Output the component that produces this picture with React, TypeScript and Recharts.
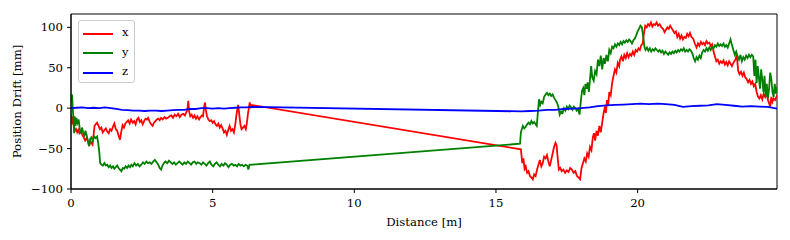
import {
  LineChart,
  Line,
  XAxis,
  YAxis,
  Legend,
  ReferenceArea,
} from "recharts";

// [distance (m), drift (mm)]
const driftX: [number, number][] = [
  [0, -8], [0.03, -20], [0.06, -10], [0.1, -22], [0.14, -28], [0.18, -26], [0.22, -30],
  [0.26, -27], [0.3, -31], [0.35, -29], [0.4, -33], [0.45, -36], [0.5, -40], [0.55, -37],
  [0.6, -41], [0.64, -47], [0.68, -40], [0.72, -43], [0.76, -45], [0.8, -32], [0.83, -22],
  [0.87, -20], [0.92, -18], [0.97, -22], [1.02, -26], [1.07, -24], [1.12, -30], [1.18, -27],
  [1.23, -25], [1.28, -29], [1.33, -31], [1.38, -26], [1.43, -28], [1.48, -23], [1.53, -19],
  [1.58, -26], [1.63, -28], [1.68, -34], [1.73, -39], [1.77, -30], [1.82, -21], [1.87, -24],
  [1.92, -19], [1.97, -17], [2.02, -15], [2.07, -19], [2.12, -14], [2.18, -18], [2.23, -16],
  [2.28, -20], [2.33, -14], [2.38, -12], [2.43, -17], [2.48, -15], [2.53, -20], [2.58, -16],
  [2.63, -13], [2.68, -14], [2.72, -12], [2.78, -17], [2.83, -20], [2.88, -22], [2.93, -18],
  [2.98, -16], [3.03, -14], [3.08, -13], [3.13, -15], [3.18, -12], [3.24, -14], [3.3, -11],
  [3.36, -13], [3.42, -12], [3.48, -10], [3.54, -9], [3.6, -12], [3.66, -8], [3.72, -10],
  [3.78, -7], [3.84, -11], [3.9, -8], [3.96, -7], [4.02, -9], [4.07, -5], [4.11, -2],
  [4.14, 9], [4.17, -4], [4.21, -10], [4.26, -8], [4.31, -12], [4.36, -9], [4.41, -13],
  [4.46, -10], [4.52, -14], [4.57, -11], [4.62, -9], [4.66, -10], [4.7, 2], [4.73, 7],
  [4.76, -2], [4.8, -10], [4.85, -14], [4.9, -16], [4.95, -15], [5.0, -18], [5.05, -16],
  [5.1, -20], [5.15, -22], [5.2, -19], [5.25, -24], [5.3, -21], [5.36, -26], [5.4, -30],
  [5.45, -28], [5.5, -33], [5.55, -27], [5.6, -22], [5.65, -28], [5.7, -26], [5.75, -30],
  [5.8, -20], [5.84, -8], [5.9, 4], [5.94, -8], [5.98, -20], [6.02, -26], [6.07, -24],
  [6.12, -22], [6.17, -26], [6.21, -18], [6.25, -6], [6.29, 3], [6.31, 7], [6.34, 2],
  [6.37, 4],
  [15.88, -51], [15.93, -68], [15.97, -62], [16.01, -75], [16.05, -72], [16.1, -80],
  [16.15, -78], [16.2, -84], [16.25, -86], [16.3, -88], [16.35, -82], [16.4, -84],
  [16.45, -76], [16.5, -70], [16.55, -64], [16.6, -72], [16.65, -68], [16.7, -60],
  [16.75, -62], [16.8, -58], [16.85, -66], [16.9, -72], [16.95, -64], [17.0, -56],
  [17.05, -48], [17.1, -43], [17.14, -46], [17.18, -62], [17.22, -76], [17.27, -74],
  [17.32, -78], [17.38, -76], [17.44, -80], [17.5, -77], [17.56, -79], [17.62, -74],
  [17.68, -76], [17.74, -80], [17.8, -78], [17.86, -84], [17.92, -86], [17.97, -88],
  [18.02, -74], [18.07, -68], [18.12, -62], [18.17, -66], [18.22, -56], [18.27, -60],
  [18.32, -48], [18.37, -52], [18.42, -36], [18.46, -31], [18.5, -40], [18.55, -28],
  [18.6, -34], [18.65, -22], [18.7, -30], [18.75, -18], [18.8, -6], [18.85, 2], [18.88, -6],
  [18.92, 10], [18.96, 4], [19.0, 20], [19.05, 16], [19.1, 31], [19.15, 40], [19.2, 48],
  [19.25, 44], [19.3, 56], [19.35, 52], [19.38, 60], [19.43, 64], [19.48, 58], [19.53, 66],
  [19.58, 62], [19.63, 68], [19.68, 63], [19.73, 67], [19.78, 65], [19.83, 70], [19.88, 66],
  [19.93, 72], [19.98, 70], [20.03, 74], [20.08, 72], [20.13, 78], [20.18, 80], [20.22, 92],
  [20.27, 102], [20.32, 100], [20.37, 104], [20.42, 102], [20.47, 106], [20.52, 101],
  [20.57, 104], [20.62, 103], [20.67, 106], [20.72, 102], [20.78, 104], [20.84, 100],
  [20.9, 98], [20.95, 94], [21.0, 97], [21.05, 100], [21.1, 98], [21.15, 102], [21.2, 99],
  [21.25, 96], [21.3, 93], [21.35, 95], [21.4, 88], [21.45, 92], [21.5, 86], [21.55, 90],
  [21.6, 85], [21.65, 88], [21.7, 87], [21.75, 92], [21.8, 89], [21.85, 93], [21.9, 88],
  [21.96, 86], [22.02, 80], [22.08, 75], [22.13, 80], [22.18, 77], [22.23, 82], [22.28, 79],
  [22.33, 81], [22.38, 78], [22.43, 83], [22.48, 80], [22.53, 81], [22.58, 77], [22.63, 79],
  [22.68, 70], [22.73, 64], [22.78, 58], [22.83, 60], [22.88, 55], [22.93, 58], [22.98, 56],
  [23.03, 59], [23.08, 54], [23.13, 57], [23.18, 53], [23.23, 58], [23.28, 55], [23.33, 52],
  [23.38, 56], [23.45, 60], [23.5, 66], [23.55, 46], [23.6, 42], [23.65, 45], [23.7, 40],
  [23.75, 44], [23.8, 38], [23.85, 36], [23.9, 32], [23.95, 35], [24.0, 30], [24.05, 33],
  [24.1, 27], [24.15, 30], [24.2, 20], [24.25, 14], [24.3, 12], [24.35, 16], [24.4, 11],
  [24.45, 18], [24.5, 14], [24.55, 20], [24.6, 10], [24.65, 5], [24.68, 2], [24.72, 14],
  [24.76, 8], [24.8, 12], [24.85, 10], [24.9, 14], [24.92, 12],
];

const driftY: [number, number][] = [
  [0, 15], [0.02, 8], [0.04, 17], [0.06, 0], [0.09, -14], [0.11, -31], [0.13, -10],
  [0.16, -22], [0.19, -12], [0.23, -18], [0.27, -14], [0.31, -26], [0.35, -31], [0.39, -24],
  [0.43, -30], [0.47, -35], [0.51, -28], [0.55, -33], [0.6, -41], [0.64, -47], [0.68, -38],
  [0.72, -36], [0.77, -40], [0.82, -35], [0.87, -37], [0.92, -35], [0.96, -43], [1.0, -55],
  [1.03, -68], [1.08, -70], [1.13, -71], [1.18, -68], [1.23, -71], [1.28, -70], [1.33, -73],
  [1.38, -71], [1.43, -74], [1.48, -72], [1.53, -75], [1.58, -73], [1.63, -71], [1.68, -74],
  [1.73, -76], [1.78, -78], [1.83, -74], [1.88, -75], [1.93, -72], [1.98, -74], [2.03, -71],
  [2.08, -73], [2.13, -70], [2.18, -72], [2.24, -68], [2.3, -71], [2.36, -69], [2.42, -72],
  [2.48, -70], [2.54, -67], [2.6, -69], [2.66, -66], [2.72, -68], [2.78, -67], [2.84, -69],
  [2.9, -66], [2.96, -64], [3.02, -67], [3.08, -70], [3.13, -74], [3.18, -76], [3.23, -71],
  [3.28, -68], [3.34, -66], [3.4, -68], [3.46, -65], [3.52, -67], [3.58, -69], [3.64, -67],
  [3.7, -70], [3.76, -68], [3.82, -66], [3.88, -68], [3.94, -70], [4.0, -67], [4.06, -69],
  [4.12, -66], [4.18, -68], [4.24, -70], [4.3, -67], [4.36, -66], [4.42, -69], [4.48, -67],
  [4.54, -68], [4.6, -70], [4.66, -67], [4.72, -69], [4.78, -71], [4.84, -68], [4.9, -66],
  [4.96, -70], [5.02, -72], [5.08, -69], [5.14, -67], [5.2, -70], [5.26, -72], [5.32, -69],
  [5.38, -71], [5.44, -68], [5.5, -70], [5.56, -73], [5.62, -70], [5.68, -69], [5.74, -71],
  [5.8, -70], [5.86, -72], [5.92, -69], [5.98, -71], [6.04, -70], [6.1, -72], [6.16, -70],
  [6.22, -71], [6.26, -76], [6.3, -70],
  [15.85, -44], [15.88, -30], [15.91, -26], [15.95, -22], [16.0, -25], [16.05, -23],
  [16.1, -20], [16.15, -18], [16.2, -20], [16.25, -16], [16.3, -19], [16.35, -17],
  [16.4, -20], [16.44, -22], [16.48, -5], [16.52, 11], [16.56, 4], [16.6, 8], [16.65, 6],
  [16.7, 14], [16.75, 17], [16.8, 19], [16.85, 16], [16.9, 18], [16.95, 15], [17.0, 17],
  [17.05, 13], [17.1, 10], [17.15, 7], [17.2, 2], [17.25, -8], [17.3, -4], [17.35, -6],
  [17.4, 0], [17.45, -3], [17.5, 2], [17.55, -1], [17.6, 3], [17.65, 1], [17.7, -2],
  [17.75, 2], [17.8, 0], [17.85, -3], [17.9, -1], [17.95, -8], [18.0, 10], [18.04, 22],
  [18.08, 25], [18.12, 16], [18.16, 30], [18.2, 24], [18.24, 32], [18.28, 20], [18.32, 36],
  [18.36, 52], [18.4, 38], [18.45, 34], [18.5, 46], [18.55, 42], [18.6, 60], [18.65, 52],
  [18.7, 65], [18.75, 48], [18.8, 62], [18.85, 55], [18.9, 66], [18.95, 58], [19.0, 72],
  [19.05, 68], [19.1, 76], [19.15, 74], [19.2, 79], [19.25, 76], [19.3, 80], [19.35, 78],
  [19.4, 82], [19.45, 79], [19.5, 83], [19.55, 81], [19.6, 84], [19.65, 82], [19.7, 85],
  [19.75, 83], [19.8, 80], [19.85, 84], [19.9, 86], [19.95, 90], [20.0, 95], [20.05, 98],
  [20.1, 102], [20.15, 100], [20.2, 88], [20.24, 76], [20.28, 72], [20.33, 75], [20.38, 71],
  [20.43, 74], [20.48, 70], [20.53, 73], [20.58, 71], [20.63, 74], [20.68, 72], [20.73, 70],
  [20.78, 72], [20.83, 69], [20.88, 71], [20.93, 67], [20.98, 70], [21.03, 68], [21.08, 66],
  [21.13, 69], [21.18, 67], [21.23, 70], [21.28, 68], [21.33, 71], [21.38, 69], [21.43, 72],
  [21.48, 70], [21.53, 73], [21.58, 71], [21.63, 74], [21.68, 70], [21.73, 72], [21.78, 70],
  [21.83, 73], [21.88, 71], [21.93, 68], [21.98, 62], [22.03, 58], [22.08, 63], [22.13, 60],
  [22.18, 65], [22.23, 62], [22.28, 69], [22.33, 72], [22.38, 70], [22.43, 74], [22.48, 71],
  [22.53, 75], [22.58, 72], [22.63, 76], [22.68, 74], [22.73, 78], [22.78, 76], [22.83, 80],
  [22.88, 77], [22.93, 79], [22.98, 77], [23.03, 80], [23.08, 76], [23.13, 78], [23.18, 75],
  [23.23, 80], [23.28, 85], [23.33, 78], [23.38, 72], [23.43, 66], [23.48, 70], [23.53, 64],
  [23.58, 60], [23.63, 66], [23.68, 58], [23.73, 63], [23.78, 60], [23.83, 65], [23.88, 62],
  [23.93, 66], [23.98, 63], [24.03, 66], [24.08, 64], [24.12, 40], [24.16, 60], [24.2, 31],
  [24.24, 52], [24.28, 38], [24.32, 24], [24.36, 48], [24.4, 36], [24.44, 20], [24.48, 40],
  [24.52, 14], [24.56, 30], [24.6, 12], [24.64, 24], [24.68, 44], [24.72, 36], [24.76, 20],
  [24.8, 14], [24.84, 30], [24.88, 18], [24.92, 26],
];

const driftZ: [number, number][] = [
  [0, 0], [0.2, 0.5], [0.4, 1], [0.6, 0], [0.8, 0.5], [1.0, 0], [1.2, 1], [1.4, 0],
  [1.6, -1], [1.8, -2], [2.0, -2.5], [2.2, -3], [2.4, -3], [2.6, -3.5], [2.8, -3], [3.0, -3],
  [3.2, -3.5], [3.4, -3], [3.6, -2.5], [3.8, -2], [4.0, -2], [4.2, -1], [4.4, -1], [4.6, 0],
  [4.8, 0], [5.0, -0.5], [5.2, 0], [5.4, -0.5], [5.6, 0], [5.8, 0.5], [6.0, 1], [6.2, 1],
  [6.4, 1.5],
  [15.9, -4], [16.2, -3.5], [16.5, -3], [16.8, -2], [17.1, -2], [17.4, -1], [17.7, -0.5],
  [18.0, 0], [18.3, 1], [18.6, 2.5], [18.9, 3.5], [19.2, 4], [19.5, 4.5], [19.8, 5],
  [20.1, 5.5], [20.4, 5], [20.7, 5.5], [21.0, 5], [21.3, 4], [21.6, 1.5], [21.9, 2.5],
  [22.2, 3], [22.5, 3.5], [22.8, 5], [23.1, 4], [23.4, 3], [23.7, 2], [24.0, 2.5],
  [24.3, 2], [24.6, 1.5], [24.92, -0.5],
];

const seriesNames = ["x", "y", "z"];
const seriesColors = ["#ff0000", "#008000", "#0000ff"];
const xTicks = [0, 5, 10, 15, 20];
const yTicks = [-100, -50, 0, 50, 100];
const xDomain: [number, number] = [0, 24.92];
const yDomain: [number, number] = [-100, 116.5];

const toRows = (pts: [number, number][]) => pts.map(([d, v]) => ({ d, v }));

const FONT = "'DejaVu Serif', serif";
const fmt = (v: number) => (v < 0 ? `\u2212${Math.abs(v)}` : `${v}`);

function LegendBox() {
  return (
    <div
      style={{
        width: 57,
        height: 63,
        boxSizing: "border-box",
        border: "1px solid #cccccc",
        borderRadius: 3,
        background: "rgba(255,255,255,0.8)",
        fontFamily: FONT,
        fontSize: 11.5,
        paddingTop: 3,
      }}
    >
      {seriesNames.map((name, i) => (
        <div key={name} style={{ display: "flex", alignItems: "center", height: 19.5 }}>
          <svg width={40} height={6} style={{ marginLeft: 3 }}>
            <line x1={1} x2={31} y1={3} y2={3} stroke={seriesColors[i]} strokeWidth={2} />
          </svg>
          <span style={{ marginTop: -3 }}>{name}</span>
        </div>
      ))}
    </div>
  );
}

export default function App() {
  const series = [driftX, driftY, driftZ];
  return (
    <div style={{ position: "absolute", left: 0, top: 0, background: "#fff" }}>
      <LineChart width={790} height={240} margin={{ top: 14, right: 13, bottom: 0, left: 0 }}>
        <XAxis
          dataKey="d"
          type="number"
          domain={xDomain}
          allowDataOverflow
          ticks={xTicks}
          tickSize={4}
          tickMargin={6}
          height={51}
          stroke="#000"
          tick={{ fill: "#000", fontFamily: FONT, fontSize: 11.7 }}
          label={{
            value: "Distance [m]",
            position: "insideBottom",
            offset: 14,
            fill: "#000",
            fontFamily: FONT,
            fontSize: 11.7,
          }}
        />
        <YAxis
          type="number"
          domain={yDomain}
          allowDataOverflow
          ticks={yTicks}
          tickSize={4}
          tickMargin={4}
          width={71}
          stroke="#000"
          tickFormatter={fmt}
          tick={{ fill: "#000", fontFamily: FONT, fontSize: 11.7 }}
          label={({ viewBox }: any) => (
            <text
              x={viewBox.x + 17}
              y={viewBox.y + viewBox.height / 2}
              transform={`rotate(-90 ${viewBox.x + 17} ${viewBox.y + viewBox.height / 2})`}
              textAnchor="middle"
              dominantBaseline="central"
              fontFamily={FONT}
              fontSize={11.7}
              fill="#000"
            >
              Position Drift [mm]
            </text>
          )}
        />
        {series.map((pts, i) => (
          <Line
            key={seriesNames[i]}
            data={toRows(pts)}
            dataKey="v"
            name={seriesNames[i]}
            type="linear"
            stroke={seriesColors[i]}
            strokeWidth={1.8}
            dot={false}
            activeDot={false}
            isAnimationActive={false}
          />
        ))}
        {/* axes frame (top + right spines) */}
        <ReferenceArea
          x1={xDomain[0]}
          x2={xDomain[1]}
          y1={yDomain[0]}
          y2={yDomain[1]}
          fill="none"
          stroke="#000"
          strokeWidth={1}
          ifOverflow="visible"
        />
        <Legend
          layout="horizontal"
          verticalAlign="middle"
          align="center"
          content={() => <LegendBox />}
          wrapperStyle={{ left: 78, top: 20, width: 57, height: 63 }}
        />
      </LineChart>
    </div>
  );
}
